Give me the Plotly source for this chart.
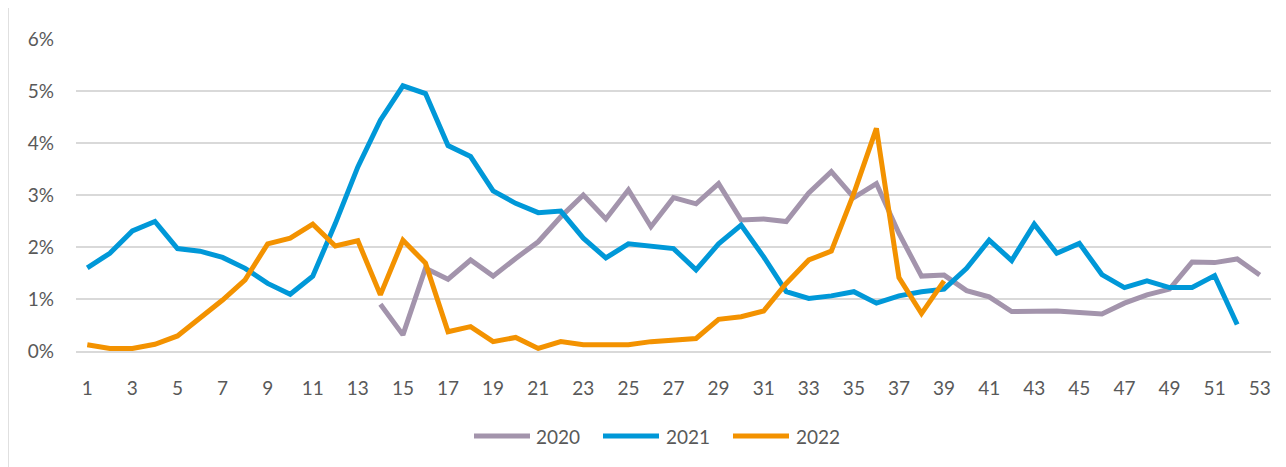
import plotly.graph_objects as go

weeks = list(range(1, 54))

y2020 = [None]*13 + [0.90, 0.31, 1.59, 1.38, 1.75, 1.44, 1.78, 2.10, 2.58, 3.00, 2.54, 3.10,
                     2.39, 2.95, 2.83, 3.22, 2.52, 2.54, 2.49, 3.04, 3.45, 2.95, 3.22, 2.26,
                     1.44, 1.46, 1.16, 1.04, 0.76, 0.76, 0.77, 0.74, 0.71, 0.92, 1.08, 1.19,
                     1.71, 1.70, 1.77, 1.46]

y2021 = [1.60, 1.88, 2.31, 2.49, 1.97, 1.92, 1.80, 1.59, 1.30, 1.09, 1.44, 2.45, 3.54, 4.44,
         5.10, 4.95, 3.95, 3.74, 3.08, 2.84, 2.66, 2.69, 2.17, 1.79, 2.06, 2.01, 1.97, 1.56,
         2.06, 2.42, 1.81, 1.14, 1.01, 1.06, 1.14, 0.92, 1.06, 1.14, 1.19, 1.59, 2.13, 1.74,
         2.44, 1.88, 2.07, 1.47, 1.22, 1.35, 1.22, 1.22, 1.45, 0.51, None]

y2022 = [0.12, 0.05, 0.05, 0.13, 0.29, 0.63, 0.98, 1.37, 2.06, 2.17, 2.44, 2.02, 2.12, 1.08,
         2.13, 1.69, 0.37, 0.47, 0.18, 0.26, 0.05, 0.18, 0.12, 0.12, 0.12, 0.18, 0.21, 0.24,
         0.61, 0.66, 0.77, 1.30, 1.75, 1.92, 3.03, 4.28, 1.41, 0.72, 1.35] + [None]*14

series_names = ["2020", "2021", "2022"]
series_colors = ["#A394AC", "#0098D8", "#F39200"]
series_values = [y2020, y2021, y2022]

tick_vals = list(range(1, 54, 2))
y_ticks = [0, 1, 2, 3, 4, 5, 6]

fig = go.Figure()
for name, vals, color in zip(series_names, series_values, series_colors):
    fig.add_trace(go.Scatter(
        x=weeks, y=[None if v is None else v / 100 for v in vals],
        mode="lines", name=name,
        line=dict(color=color, width=5, shape="linear"),
        connectgaps=False, showlegend=False,
    ))

font_color = "#595959"
# page body has an 8px default margin, so the figure is sized to fit inside it
PL, PR, PT, PB = 68, 15, 31, 116
W, H = 1278, 459
plot_w = W - PL - PR
plot_h = H - PT - PB


def px_x(ax):  # absolute page x -> paper fraction
    return (ax - 8 - PL) / plot_w


def px_y(ay):  # absolute page y -> paper fraction
    return (H - PB + 8 - ay) / plot_h


fig.update_layout(
    width=W, height=H,
    margin=dict(l=PL, r=PR, t=PT, b=PB),
    paper_bgcolor="white", plot_bgcolor="white",
    font=dict(family="Lato, 'Open Sans', sans-serif", size=19, color=font_color),
    showlegend=False,
    xaxis=dict(range=[0.5, 53.5], tickmode="array", tickvals=tick_vals,
               ticktext=[str(v) for v in tick_vals], showgrid=False, zeroline=False,
               showline=True, linecolor="#D9D9D9", linewidth=1.5, ticks="",
               ticklabelstandoff=19),
    yaxis=dict(range=[0, 0.06], tickmode="array", tickvals=[v / 100 for v in y_ticks],
               ticktext=[f"{v}%" for v in y_ticks], showgrid=True, gridcolor="#D9D9D9",
               gridwidth=1.5, zeroline=False, showline=False, ticks="",
               ticklabelstandoff=21),
)

# custom legend (long line keys, as in the original)
legend_line_x = [(474, 530), (603, 659), (733, 789)]
legend_text_x = [534, 664, 794]
legend_y = 436
for (x0, x1), tx, name, color in zip(legend_line_x, legend_text_x, series_names, series_colors):
    fig.add_shape(type="line", xref="paper", yref="paper",
                  x0=px_x(x0), x1=px_x(x1), y0=px_y(legend_y), y1=px_y(legend_y),
                  line=dict(color=color, width=5))
    fig.add_annotation(xref="paper", yref="paper", x=px_x(tx), y=px_y(legend_y),
                       text=name, showarrow=False, xanchor="left", yanchor="middle",
                       font=dict(size=19, color=font_color))

fig.add_shape(type="line", xref="paper", yref="paper", x0=px_x(8), x1=px_x(8),
              y0=px_y(470), y1=px_y(0), line=dict(color="#E0E0E0", width=2))

fig.write_html("out.html")
